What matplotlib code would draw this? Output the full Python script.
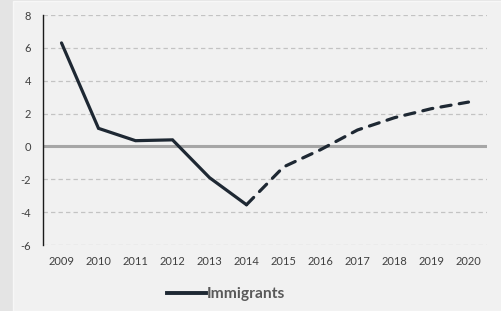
import matplotlib
matplotlib.use("Agg")
import matplotlib.pyplot as plt
from matplotlib.patches import Rectangle
from matplotlib.lines import Line2D

years = ["2009", "2010", "2011", "2012", "2013", "2014", "2015", "2016", "2017", "2018", "2019", "2020"]
values = [6.3, 1.1, 0.35, 0.4, -1.9, -3.55, -1.25, -0.2, 1.0, 1.75, 2.3, 2.7]
split = 5  # last actual year index (2014), forecast afterwards
yticks = [-6, -4, -2, 0, 2, 4, 6, 8]
series_name = "Immigrants"

plt.rcParams['font.family'] = ['Lato', 'DejaVu Sans']

fig = plt.figure(figsize=(5.02, 3.11), dpi=100)
fig.patch.set_facecolor("#e4e4e4")

bg = fig.add_axes([0, 0, 1, 1], zorder=-10)
bg.set_xlim(0, 502)
bg.set_ylim(311, 0)
bg.axis("off")
bg.add_patch(Rectangle((13, 1), 489, 310, facecolor="#f1f1f1", edgecolor="#f7f7f7", linewidth=1.0))

ax = fig.add_axes([43 / 502, 1 - 245 / 311, (487 - 43) / 502, (245 - 15) / 311], zorder=1)
ax.set_facecolor("none")

x = list(range(len(years)))
line_color = "#1e2833"
ax.plot(x[:split + 1], values[:split + 1], color=line_color, lw=2.3, solid_joinstyle="miter",
        solid_capstyle="round", zorder=4)
ax.plot(x[split:], values[split:], color=line_color, lw=2.3, linestyle=(0, (3.2, 2.6)),
        dash_capstyle="round", zorder=4)

ax.set_xlim(-0.5, len(years) - 0.5)
ax.set_ylim(-6, 8)
ax.set_yticks(yticks)
ax.set_yticklabels([str(t) for t in yticks])
ax.set_xticks(x)
ax.set_xticklabels(years)

for t in yticks:
    if t != 0:
        ax.axhline(t, color="#c3c3c3", lw=0.9, linestyle=(0, (3.5, 2.5)), zorder=1)
ax.axhline(0, color="#a6a6a6", lw=2.2, zorder=2)

for s in ["top", "right", "bottom"]:
    ax.spines[s].set_visible(False)
ax.spines["left"].set_color("#1a1a1a")
ax.spines["left"].set_linewidth(1.0)

ax.tick_params(axis="y", length=0, labelsize=8, colors="#404040", pad=8.5)
ax.tick_params(axis="x", length=0, labelsize=8, colors="#404040", pad=8)

handle = Line2D([], [], color=line_color, lw=2.8)
fig.legend([handle], [series_name], loc="center", bbox_to_anchor=(226 / 502, 1 - 294 / 311),
           frameon=False, handlelength=2.5, handletextpad=0.1,
           prop={"weight": "bold", "size": 11.2}, labelcolor="#595959")

fig.savefig("out.png", dpi=100, facecolor=fig.get_facecolor())
